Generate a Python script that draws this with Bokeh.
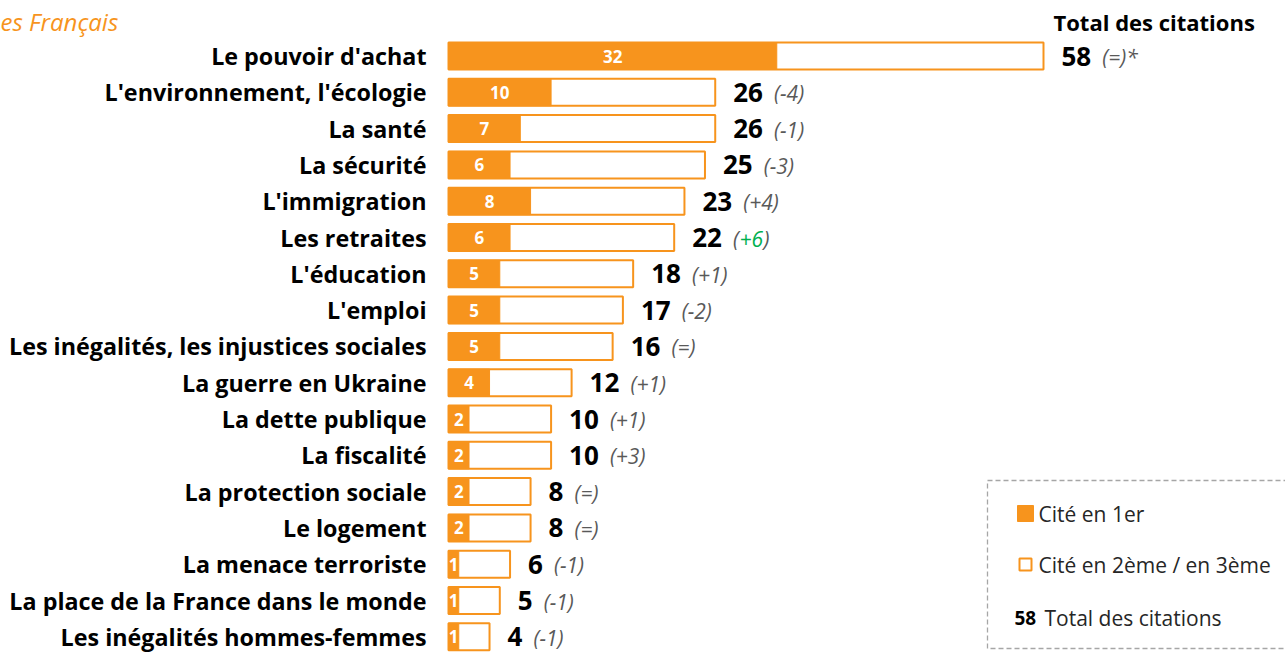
from bokeh.plotting import figure
from bokeh.models import Range1d, ColumnDataSource
from bokeh.core.properties import value
from bokeh.embed import file_html
from bokeh.resources import INLINE

categories = ["Le pouvoir d'achat", "L'environnement, l'écologie", "La santé", "La sécurité",
              "L'immigration", "Les retraites", "L'éducation", "L'emploi",
              "Les inégalités, les injustices sociales", "La guerre en Ukraine", "La dette publique",
              "La fiscalité", "La protection sociale", "Le logement", "La menace terroriste",
              "La place de la France dans le monde", "Les inégalités hommes-femmes"]
first = [32, 10, 7, 6, 8, 6, 5, 5, 5, 4, 2, 2, 2, 2, 1, 1, 1]
total = [58, 26, 26, 25, 23, 22, 18, 17, 16, 12, 10, 10, 8, 8, 6, 5, 4]
change = ["(=)*", "(-4)", "(-1)", "(-3)", "(+4)", "(+6)", "(+1)", "(-2)", "(=)", "(+1)",
          "(+1)", "(+3)", "(=)", "(=)", "(-1)", "(-1)", "(-1)"]
change_up = [False, False, False, False, False, True, False, False, False, False,
             False, False, False, False, False, False, False]

ORANGE = "#F7941D"
GRAY = "#595959"
GREEN = "#00B050"
FONT = "Open Sans"

W, H = 1285, 653
X0, PXU = 448.0, (1043.0 - 448.0) / 58.0   # pixel of value 0, pixels per unit
Y0, ROW = 55.5, 36.3                        # pixel of first row centre, row spacing
DIGIT = 14.9                                # approx. width of one bold digit
CHG = "21px"


def px2x(px):
    return (px - X0) / PXU


def px2y(py):
    return (py - Y0) / ROW


p = figure(width=W, height=H, output_backend="svg", toolbar_location=None,
           x_range=Range1d(px2x(0), px2x(W)), y_range=Range1d(px2y(H), px2y(0)),
           min_border=0)
p.axis.visible = False
p.grid.visible = False
p.outline_line_color = None
p.background_fill_color = "white"
p.border_fill_color = "white"

n = len(categories)
idx = list(range(n))
src = ColumnDataSource(dict(
    y=idx, cat=categories, first=first, total=total,
    first_mid=[f / 2 for f in first], first_lbl=[str(f) for f in first],
    total_lbl=[str(t) for t in total],
))

bh = 27.0 / ROW
p.hbar(y="y", left=0, right="total", height=bh, source=src, fill_color="white",
       line_color=ORANGE, line_width=2)
p.hbar(y="y", left=0, right="first", height=bh, source=src, fill_color=ORANGE,
       line_color=ORANGE, line_width=1)

p.text(x="first_mid", y="y", text="first_lbl", source=src, text_color="white",
       text_font=value(FONT), text_font_style="bold", text_font_size="17px",
       text_align="center", text_baseline="middle")

p.text(x=0, y="y", text="cat", source=src, x_offset=-22, text_color="black",
       text_font=value(FONT), text_font_style="bold", text_font_size="23.3px",
       text_align="right", text_baseline="middle")

p.text(x="total", y="y", text="total_lbl", source=src, x_offset=18, text_color="black",
       text_font=value(FONT), text_font_style="bold", text_font_size="26px",
       text_align="left", text_baseline="middle")

gray_rows = [i for i in idx if not change_up[i]]
green_rows = [i for i in idx if change_up[i]]
gsrc = ColumnDataSource(dict(
    y=gray_rows, x=[total[i] for i in gray_rows],
    t=[change[i] for i in gray_rows],
    off=[18 + DIGIT * len(str(total[i])) + 11 for i in gray_rows]))
p.text(x="x", y="y", text="t", x_offset="off", y_offset=1, source=gsrc, text_color=GRAY,
       text_font=value(FONT), text_font_style="italic", text_font_size=CHG,
       text_align="left", text_baseline="middle")

for i in green_rows:
    base = 18 + DIGIT * len(str(total[i])) + 11
    inner = change[i][1:-1]
    kw = dict(text_font=value(FONT), text_font_style="italic", text_font_size=CHG,
              text_align="left", text_baseline="middle", y_offset=1)
    p.text(x=[total[i]], y=[i], text=["("], x_offset=base, text_color=GRAY, **kw)
    p.text(x=[total[i]], y=[i], text=[inner], x_offset=base + 6.5, text_color=GREEN, **kw)
    p.text(x=[total[i]], y=[i], text=[")"], x_offset=base + 6.5 + 12 * len(inner),
           text_color=GRAY, **kw)

# title fragment and column header
p.text(x=[px2x(0)], y=[px2y(21)], text=["es Français"], text_color=ORANGE,
       text_font=value(FONT), text_font_style="italic", text_font_size="24px",
       text_align="left", text_baseline="middle")
p.text(x=[px2x(1053)], y=[px2y(21)], text=["Total des citations"], text_color="black",
       text_font=value(FONT), text_font_style="bold", text_font_size="22px",
       text_align="left", text_baseline="middle")

# legend box
p.quad(left=[px2x(987)], right=[px2x(1295)], top=[px2y(480)], bottom=[px2y(648)],
       fill_color=None, line_color="#A6A6A6", line_width=1.3, line_dash="5 3")
p.quad(left=[px2x(1017)], right=[px2x(1033)], top=[px2y(505)], bottom=[px2y(521)],
       fill_color=ORANGE, line_color=ORANGE)
p.quad(left=[px2x(1019)], right=[px2x(1031)], top=[px2y(558)], bottom=[px2y(570)],
       fill_color="white", line_color=ORANGE, line_width=2)
lkw = dict(text_font=value(FONT), text_font_size="21px", text_align="left",
           text_baseline="middle")
p.text(x=[px2x(1038)], y=[px2y(513)], text=["Cité en 1er"], text_color="#262626", **lkw)
p.text(x=[px2x(1038)], y=[px2y(564)], text=["Cité en 2ème / en 3ème"], text_color="#262626", **lkw)
p.text(x=[px2x(1014)], y=[px2y(617)], text=["58"], text_color="black",
       text_font=value(FONT), text_font_style="bold", text_font_size="19px",
       text_align="left", text_baseline="middle")
p.text(x=[px2x(1044)], y=[px2y(617)], text=["Total des citations"], text_color="#262626", **lkw)

open("out.html", "w").write(file_html(p, INLINE))
